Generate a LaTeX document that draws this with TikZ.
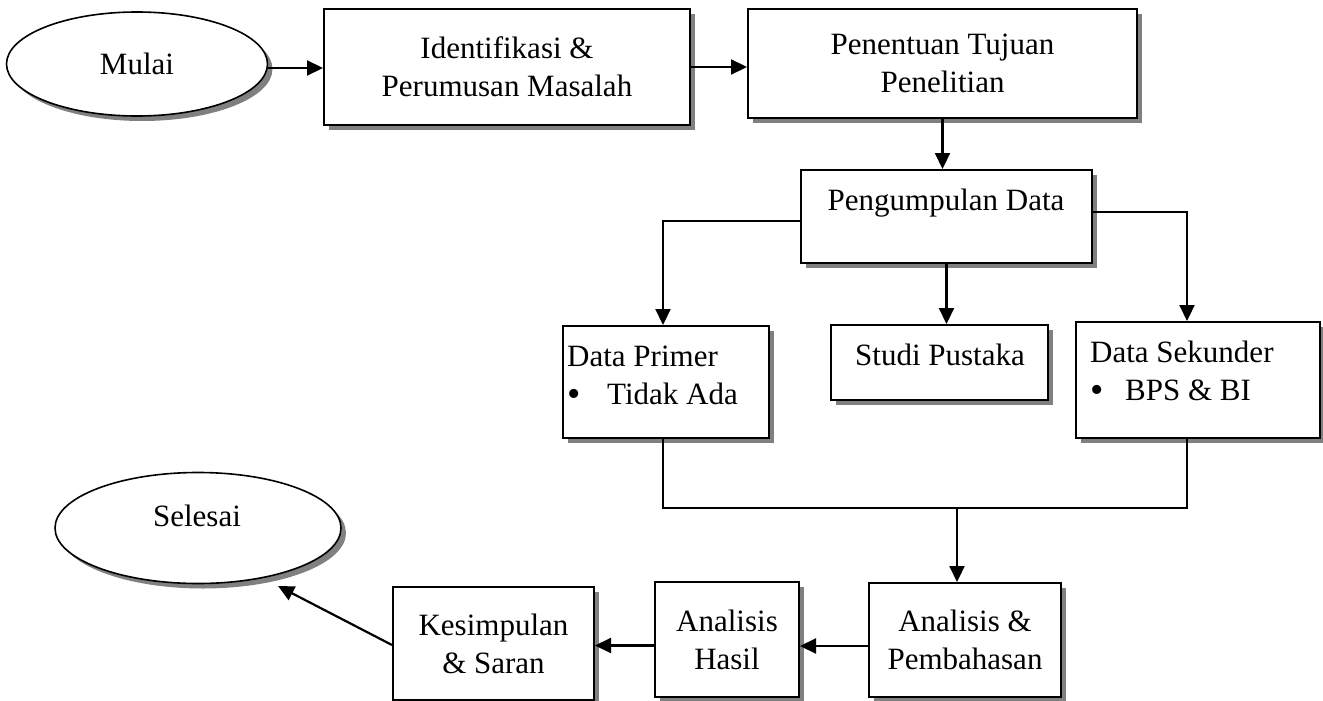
\documentclass[tikz,border=0pt]{standalone}
\usepackage{fontspec}
\setmainfont{Liberation Serif}
\usepackage{tikz}
\usetikzlibrary{shapes.geometric,shadows,arrows.meta}
\newcommand\boxfont{\fontsize{31pt}{38pt}\selectfont}
\newcommand\titik{\makebox[0pt][l]{\raisebox{-2pt}{\fontsize{38pt}{38pt}\selectfont\textbullet}}}

\begin{document}
\begin{tikzpicture}[x=1pt, y=-1pt, >={Triangle[length=16pt,width=15pt]},
  every node/.style={font=\boxfont},
  bayang/.style={drop shadow={shadow xshift=5pt, shadow yshift=-5pt, fill=black!50, opacity=1}},
  kotak/.style={draw, line width=2pt, fill=white, inner sep=0pt, align=center, bayang},
  oval/.style={draw, ellipse, line width=1.6pt, fill=white, inner sep=0pt, bayang},
  teks/.style={inner sep=0pt, align=left},
  panah/.style={->, line width=2.2pt},
  garis/.style={line width=1.4pt}]
  \useasboundingbox (0,0) rectangle (1323,701);
  % baris atas
  \node[oval, minimum width=261pt, minimum height=104pt] (mulai) at (137,64) {Mulai};
  \node[kotak, minimum width=366pt, minimum height=116pt] (ident) at (507,67) {Identifikasi \&\\Perumusan Masalah};
  \node[kotak, minimum width=389pt, minimum height=109pt] (tujuan) at (942.5,63.5) {Penentuan Tujuan\\Penelitian};
  % pengumpulan data
  \node[kotak, minimum width=291pt, minimum height=93pt] (kumpul) at (946.5,216.5) {};
  \node[teks, anchor=base] (kumpulT) at (946,210) {Pengumpulan Data};
  \node[kotak, minimum width=206pt, minimum height=112pt] (primer) at (666,382) {};
  \node[teks, anchor=north west] (primerT) at (567,346) {Data Primer\\\makebox[40pt][l]{\titik}Tidak Ada};
  \node[kotak, minimum width=217pt, minimum height=75pt] (studi) at (939.5,362.5) {};
  \node[teks, anchor=base] (studiT) at (940,365) {Studi Pustaka};
  \node[kotak, minimum width=244pt, minimum height=116pt] (sekunder) at (1198,380) {};
  \node[teks, anchor=north west] (sekunderT) at (1090,341) {Data Sekunder\\\makebox[35pt][l]{\titik}BPS \& BI};
  % baris bawah
  \node[kotak, minimum width=192pt, minimum height=114pt] (bahas) at (965,640) {Analisis \&\\Pembahasan};
  \node[kotak, minimum width=144pt, minimum height=115pt] (hasil) at (727,639.5) {Analisis\\Hasil};
  \node[kotak, minimum width=201pt, minimum height=113pt] (simpul) at (493.5,643.5) {Kesimpulan\\\& Saran};
  \node[oval, minimum width=286pt, minimum height=111pt] (selesai) at (198,528) {};
  \node[anchor=base] (selesaiT) at (197,526) {Selesai};

  \draw[panah] ([yshift=-4pt]mulai.east) -- ([yshift=-4pt]mulai.east -| ident.west);
  \draw[panah] (ident.east) -- (ident.east -| tujuan.west);
  \draw[panah] (tujuan.south) -- (tujuan.south |- kumpul.north);
  \draw[panah] ([yshift=-4.5pt]kumpul.west) -| ([xshift=-3pt]primer.north);
  \draw[panah] (kumpul.south) -- (kumpul.south |- studi.north);
  \draw[panah] ([yshift=4.5pt]kumpul.east) -| ([xshift=-11pt]sekunder.north);
  \coordinate (gabung) at (957,508);
  \draw[garis] ([xshift=-3pt]primer.south) |- (gabung) -| ([xshift=-11pt]sekunder.south);
  \draw[panah] (gabung) -- (gabung |- bahas.north);
  \draw[panah] ([yshift=-6pt]bahas.west) -- ([yshift=-6pt]bahas.west -| hasil.east);
  \draw[panah] ([yshift=-6pt]hasil.west) -- ([yshift=-6pt]hasil.west -| simpul.east);
  \coordinate (ujung) at (278,586);
  \draw[panah] ([yshift=-1.5pt]simpul.west) -- (ujung);
\end{tikzpicture}
\end{document}
